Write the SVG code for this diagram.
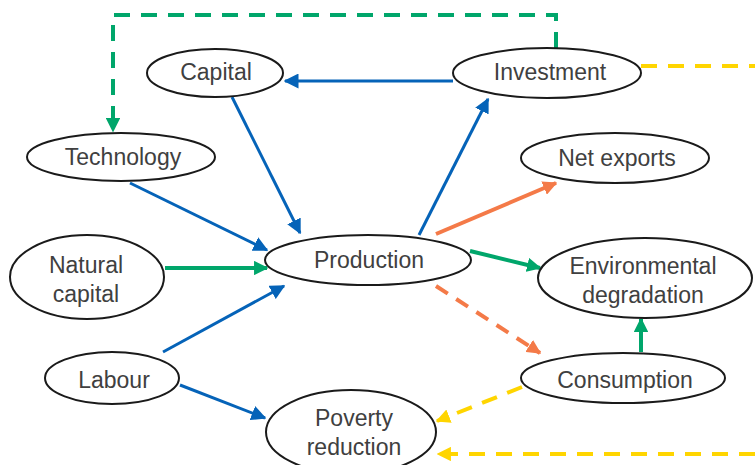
<svg xmlns="http://www.w3.org/2000/svg" width="755" height="465" viewBox="0 0 755 465">
<style>
.n ellipse{fill:#fff;stroke:#1a1a1a;stroke-width:2}
.n text{font-family:"Liberation Sans",Arial,sans-serif;font-size:23px;fill:#404040;text-anchor:middle}
.b{stroke:#0563b8;stroke-width:3;fill:none}
.g{stroke:#00a66b;stroke-width:4;fill:none}
.o{stroke:#f47a48;stroke-width:4;fill:none}
.y{stroke:#ffd500;stroke-width:4;fill:none;stroke-dasharray:16 11}
.gd{stroke:#00a66b;stroke-width:4;fill:none;stroke-dasharray:16 11}
.od{stroke:#f47a48;stroke-width:4;fill:none;stroke-dasharray:14 10}
</style>
<defs>
<marker id="mb" viewBox="0 0 10 10" refX="9" refY="5" markerWidth="5" markerHeight="5" orient="auto" markerUnits="strokeWidth"><path d="M0,0L10,5L0,10z" fill="#0563b8"/></marker>
<marker id="mg" viewBox="0 0 10 10" refX="9" refY="5" markerWidth="3.6" markerHeight="3.6" orient="auto" markerUnits="strokeWidth"><path d="M0,0L10,5L0,10z" fill="#00a66b"/></marker>
<marker id="mo" viewBox="0 0 10 10" refX="9" refY="5" markerWidth="3.6" markerHeight="3.6" orient="auto" markerUnits="strokeWidth"><path d="M0,0L10,5L0,10z" fill="#f47a48"/></marker>
<marker id="my" viewBox="0 0 10 10" refX="9" refY="5" markerWidth="3.6" markerHeight="3.6" orient="auto" markerUnits="strokeWidth"><path d="M0,0L10,5L0,10z" fill="#ffd500"/></marker>
</defs>
<g id="connectors">
<path class="gd" d="M556,48V15H113V131" marker-end="url(#mg)"/>
<path class="y" d="M641,66H755"/>
<path class="y" d="M755,454H438" marker-end="url(#my)"/>
<path class="y" d="M522,387L437,421" marker-end="url(#my)"/>
<path class="b" d="M453,81H285" marker-end="url(#mb)"/>
<path class="b" d="M232,97L300,233" marker-end="url(#mb)"/>
<path class="b" d="M130,183L267,250" marker-end="url(#mb)"/>
<path class="g" d="M165,268H267" marker-end="url(#mg)"/>
<path class="b" d="M163,352L284,286" marker-end="url(#mb)"/>
<path class="b" d="M180,385L265,418" marker-end="url(#mb)"/>
<path class="b" d="M419,235L488,99" marker-end="url(#mb)"/>
<path class="o" d="M436,234L556,183" marker-end="url(#mo)"/>
<path class="g" d="M470,251L540,268" marker-end="url(#mg)"/>
<path class="od" d="M436,286L540,353" marker-end="url(#mo)"/>
<path class="g" d="M641,352V319" marker-end="url(#mg)"/>
</g>
<g id="capital" class="n"><ellipse cx="215" cy="73" rx="68" ry="24"/><text x="216" y="80">Capital</text></g>
<g id="investment" class="n"><ellipse cx="547" cy="73" rx="94" ry="25"/><text x="550" y="80">Investment</text></g>
<g id="technology" class="n"><ellipse cx="121" cy="157" rx="94" ry="24"/><text x="123" y="165">Technology</text></g>
<g id="net-exports" class="n"><ellipse cx="615" cy="158" rx="94" ry="25"/><text x="617" y="166">Net  exports</text></g>
<g id="natural-capital" class="n"><ellipse cx="87" cy="277" rx="77" ry="42"/><text x="86" y="273">Natural</text><text x="86" y="302">capital</text></g>
<g id="production" class="n"><ellipse cx="368" cy="260" rx="103" ry="25"/><text x="369" y="268">Production</text></g>
<g id="environmental-degradation" class="n"><ellipse cx="645" cy="278" rx="107" ry="40"/><text x="643" y="274">Environmental</text><text x="643" y="303">degradation</text></g>
<g id="labour" class="n"><ellipse cx="112" cy="378" rx="67" ry="26"/><text x="114" y="388">Labour</text></g>
<g id="consumption" class="n"><ellipse cx="623" cy="378" rx="102" ry="25"/><text x="625" y="388">Consumption</text></g>
<g id="poverty-reduction" class="n"><ellipse cx="351" cy="432" rx="85" ry="42"/><text x="354" y="426">Poverty</text><text x="354" y="455">reduction</text></g>
</svg>
